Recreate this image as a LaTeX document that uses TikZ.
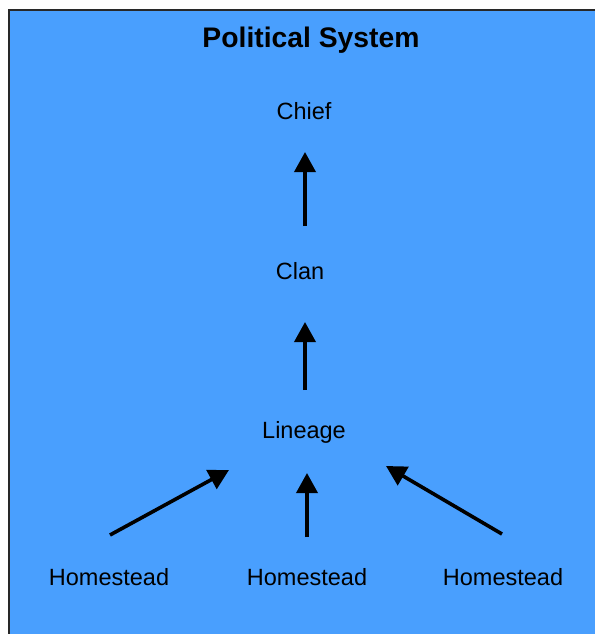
\documentclass[tikz,border=0pt]{standalone}
\usepackage{fontspec}
\setmainfont{Liberation Sans}
\usetikzlibrary{arrows.meta,calc}
\definecolor{panelblue}{RGB}{73,159,254}
\definecolor{framegray}{RGB}{40,40,40}
\tikzset{
  x=1pt, y=-1pt,
  label/.style={inner sep=0pt, font=\fontsize{23.5}{28}\selectfont},
  title/.style={inner sep=0pt, font=\fontsize{28.3}{32}\selectfont\bfseries},
  arr/.style={line width=3.6pt, -{Triangle[length=20pt,width=21pt]}},
}
\begin{document}
\begin{tikzpicture}
  \useasboundingbox (0,0) rectangle (594,634);
  % panel runs past the right and bottom edges of the page
  \begin{scope}
    \clip (-4,-4) rectangle (600,640);
    \fill[white] (-4,-4) rectangle (600,640);
    \draw[fill=panelblue, draw=framegray, line width=1.6pt] (9,10) rectangle (700,700);
  \end{scope}

  \node[title] (title) at (311,40) {Political System};

  \node[label] (chief)   at (304,111) {Chief};
  \node[label] (clan)    at (300,271) {Clan};
  \node[label] (lineage) at (304,432) {Lineage};
  \node[label] (h1)      at (109,577) {Homestead};
  \node[label] (h2)      at (307,577) {Homestead};
  \node[label] (h3)      at (503,577) {Homestead};

  % vertical chain
  \draw[arr, shorten <=45pt, shorten >=41pt] (clan -| 305,0) -- (chief -| 305,0);
  \draw[arr, shorten <=42pt, shorten >=51pt] (lineage -| 305,0) -- (clan -| 305,0);

  % homesteads into the lineage
  \draw[arr] ([xshift=1pt,yshift=42pt]h1.center) -- ([xshift=-75pt,yshift=-38pt]lineage.center);
  \draw[arr, shorten <=40pt, shorten >=41pt] (h2.center) -- (h2 |- lineage);
  \draw[arr] ([xshift=-1pt,yshift=43pt]h3.center) -- ([xshift=82pt,yshift=-34pt]lineage.center);
\end{tikzpicture}
\end{document}
